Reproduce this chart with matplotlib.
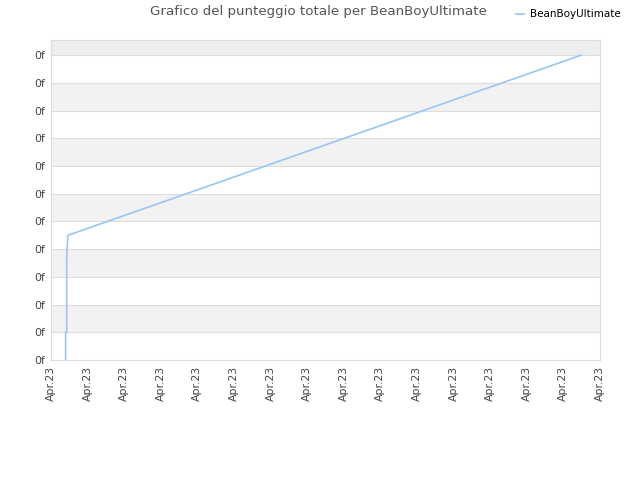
import numpy as np
import matplotlib.pyplot as plt

# Score series (x in tick-interval units, y in grid units)
days = [0.40, 0.40, 0.43, 0.43, 0.46, 14.48]
score = [0.0, 1.0, 1.0, 3.75, 4.50, 11.0]

x_labels = ["Apr.23"] * 16
y_labels = ["0f"] * 12

fig = plt.figure(figsize=(6.4, 4.8), dpi=100)
ax = fig.add_axes([51 / 640, 1 - 360 / 480, 549 / 640, 320 / 480])

ymax = 11.55
# alternating bands
for i in range(12):
    if i % 2 == 1:
        ax.axhspan(i, min(i + 1, ymax), color="#f2f2f2", zorder=0, lw=0)
ax.axhspan(11, ymax, color="#eeeeee", zorder=0, lw=0)
for i in range(1, 12):
    ax.axhline(i, color="#dddddd", lw=0.8, zorder=1)

ax.plot(days, score, color="#99c6f5", lw=1.2, zorder=3, label="BeanBoyUltimate")

ax.set_xlim(0, 15)
ax.set_ylim(0, ymax)
ax.set_xticks(np.arange(16))
ax.set_xticklabels(x_labels, rotation=90, fontsize=7.8, color="#444444")
ax.set_yticks(np.arange(12))
ax.set_yticklabels(y_labels, fontsize=7.8, color="#444444")
ax.tick_params(length=0, pad=4)
for s in ax.spines.values():
    s.set_color("#dddddd")

fig.text(318 / 640, 1 - 12 / 480, "Grafico del punteggio totale per BeanBoyUltimate",
         ha="center", va="center", fontsize=9.6, color="#555555")
leg = fig.legend(loc="upper right", bbox_to_anchor=(0.985, 1.0), frameon=False,
                 fontsize=7.5, handlelength=0.8, handletextpad=0.6)

fig.savefig("out.png", dpi=100)
